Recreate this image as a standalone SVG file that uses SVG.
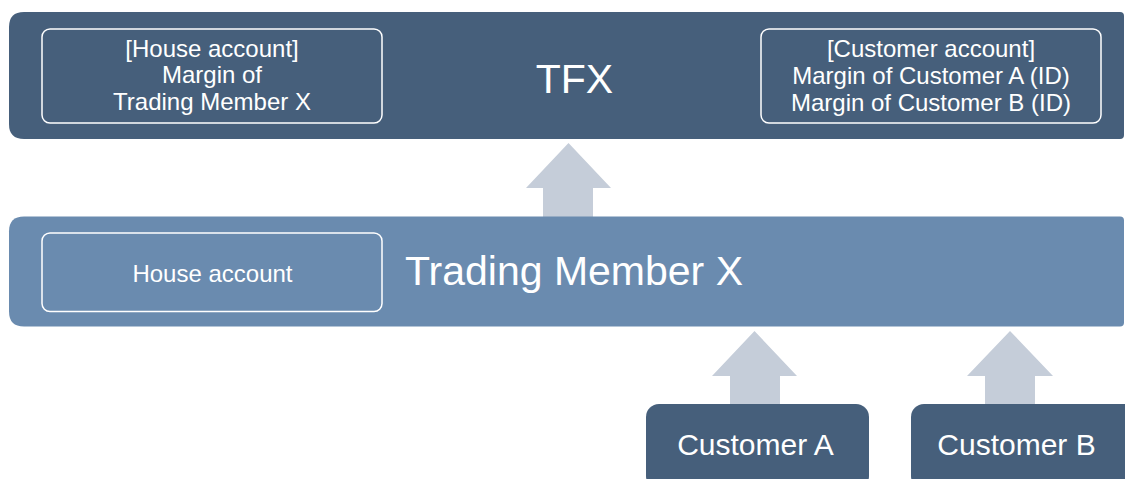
<svg xmlns="http://www.w3.org/2000/svg" width="1125" height="479" viewBox="0 0 1125 479">
<style>
.dark{fill:#465F7B}
.mid{fill:#6A8BAF}
.inner{fill:none;stroke:#FFFFFF;stroke-width:1.5}
.arrow{fill:#C5CDD9}
text{font-family:"Liberation Sans",Arial,sans-serif;fill:#FFFFFF;text-anchor:middle}
.s{font-size:24px}
.l{font-size:41px}
.c{font-size:30px}
</style>
<rect width="1125" height="479" fill="#FFFFFF"/>
<g id="connectors">
<path class="arrow" d="M568.5,143 L611,188 L593,188 L593,217 L543,217 L543,188 L526,188 Z"/>
<path class="arrow" d="M754.5,331 L797,376 L780,376 L780,405 L730,405 L730,376 L712,376 Z"/>
<path class="arrow" d="M1010,331 L1053,376 L1035,376 L1035,405 L985,405 L985,376 L967,376 Z"/>
</g>
<g id="tfx">
<path class="dark" d="M24,12 L1120,12 Q1124,12 1124,16 L1124,135 Q1124,139 1120,139 L24,139 Q9,139 9,124 L9,27 Q9,12 24,12 Z"/>
<text class="l" x="574.5" y="93">TFX</text>
</g>
<g id="tfx-house">
<rect class="inner" x="42" y="29" width="340" height="94" rx="8"/>
<text class="s" x="212" y="57">[House account]</text>
<text class="s" x="212" y="83">Margin of</text>
<text class="s" x="212" y="110">Trading Member X</text>
</g>
<g id="tfx-customer">
<rect class="inner" x="761" y="29" width="340" height="94" rx="8"/>
<text class="s" x="931" y="57">[Customer account]</text>
<text class="s" x="931" y="84">Margin of Customer A (ID)</text>
<text class="s" x="931" y="111">Margin of Customer B (ID)</text>
</g>
<g id="trading-member">
<path class="mid" d="M24,216.5 L1120,216.5 Q1124,216.5 1124,220.5 L1124,322.5 Q1124,326.5 1120,326.5 L24,326.5 Q9,326.5 9,311.5 L9,231.5 Q9,216.5 24,216.5 Z"/>
<text class="l" x="574" y="285">Trading Member X</text>
</g>
<g id="tm-house">
<rect class="inner" x="42" y="233" width="340" height="78.5" rx="8"/>
<text class="s" x="212.5" y="282">House account</text>
</g>
<g id="customer-a">
<rect class="dark" x="646" y="404" width="223" height="85" rx="13"/>
<text class="c" x="755.5" y="455">Customer A</text>
</g>
<g id="customer-b">
<rect class="dark" x="911" y="404" width="230" height="85" rx="13"/>
<text class="c" x="1016.5" y="455">Customer B</text>
</g>
</svg>
